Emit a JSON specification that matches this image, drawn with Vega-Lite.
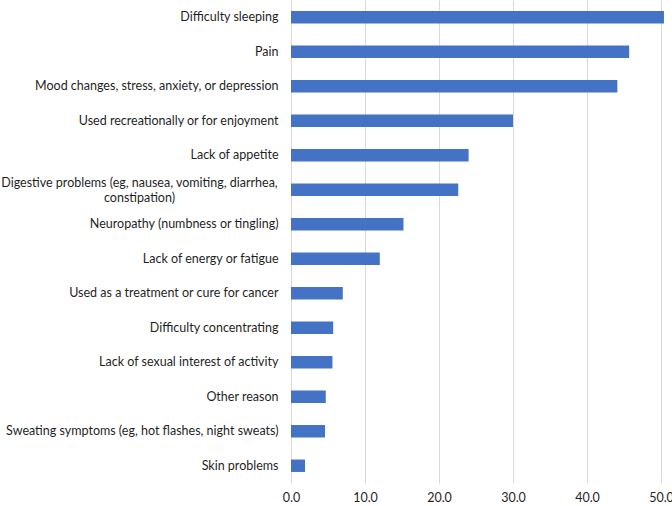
{
  "$schema": "https://vega.github.io/schema/vega-lite/v6.json",
  "autosize": "none",
  "width": 370,
  "height": 483,
  "padding": {"left": 291, "top": 0, "right": 11, "bottom": 23},
  "background": "white",
  "data": {
    "values": [
      {"reason": "Difficulty sleeping", "pct": 50.4},
      {"reason": "Pain", "pct": 45.7},
      {"reason": "Mood changes, stress, anxiety, or depression", "pct": 44.1},
      {"reason": "Used recreationally or for enjoyment", "pct": 30.0},
      {"reason": "Lack of appetite", "pct": 24.0},
      {"reason": "Digestive problems (eg, nausea, vomiting, diarrhea, constipation)", "pct": 22.6},
      {"reason": "Neuropathy (numbness or tingling)", "pct": 15.2},
      {"reason": "Lack of energy or fatigue", "pct": 12.0},
      {"reason": "Used as a treatment or cure for cancer", "pct": 7.0},
      {"reason": "Difficulty concentrating", "pct": 5.7},
      {"reason": "Lack of sexual interest of activity", "pct": 5.6},
      {"reason": "Other reason", "pct": 4.7},
      {"reason": "Sweating symptoms (eg, hot flashes, night sweats)", "pct": 4.6},
      {"reason": "Skin problems", "pct": 1.9}
    ]
  },
  "mark": {"type": "bar", "color": "#4472C4", "clip": false},
  "encoding": {
    "y": {
      "field": "reason",
      "type": "nominal",
      "sort": "-x",
      "scale": {"paddingInner": 0.64, "paddingOuter": 0.32},
      "axis": {
        "title": null,
        "ticks": false,
        "domain": false,
        "labelLimit": 400,
        "labelFont": "Lato",
        "labelFontSize": 12.5,
        "labelColor": "#1f1f1f",
        "labelLineHeight": 15,
        "labelExpr": "indexof(datum.label, 'Digestive') == 0 ? ['Digestive problems (eg, nausea, vomiting, diarrhea,', 'constipation)'] : datum.label",
        "labelAlign": {"condition": {"test": "indexof(datum.label, 'Digestive') == 0", "value": "center"}, "value": "right"},
        "labelPadding": {"condition": {"test": "indexof(datum.label, 'Digestive') == 0", "value": 152}, "value": 13},
        "labelOffset": {"condition": {"test": "indexof(datum.label, 'Digestive') == 0", "value": -7}, "value": 0}
      }
    },
    "x": {
      "field": "pct",
      "type": "quantitative",
      "scale": {"domain": [0, 50], "nice": false},
      "axis": {
        "title": null,
        "values": [0, 10, 20, 30, 40, 50],
        "format": ".1f",
        "ticks": false,
        "domain": false,
        "grid": true,
        "gridColor": "#d9d9d9",
        "gridWidth": 1,
        "labelFont": "Lato",
        "labelFontSize": 12.5,
        "labelColor": "#1f1f1f",
        "labelPadding": 8,
        "labelFlush": false
      }
    }
  },
  "config": {"view": {"stroke": null}}
}
